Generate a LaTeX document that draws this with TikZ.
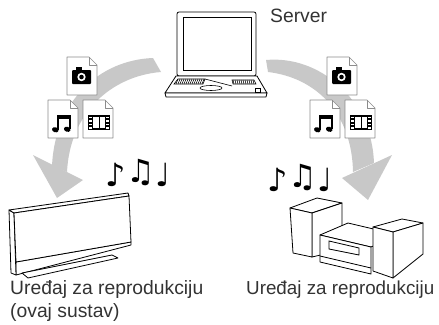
\documentclass[tikz,border=0pt]{standalone}
\usepackage{fontspec}
\setmainfont{Liberation Sans}
\newfontfamily\notefont{DejaVu Sans}

\definecolor{flowgray}{HTML}{C8C8C8}
\definecolor{labelgray}{HTML}{333333}
\definecolor{pagegray}{HTML}{8C8C8C}

\newcommand{\tunes}{♪\raisebox{4pt}{♫}♩}

\tikzset{
  devline/.style={draw=black,line width=0.8pt,line join=round,fill=white},
  flow/.style={fill=flowgray,draw=none},
  page/.style={draw=pagegray,line width=0.7pt,fill=white,line join=round},
  caption/.style={text=labelgray,font=\fontsize{19.3}{23}\selectfont,inner sep=0pt},
  tune/.style={font=\notefont\fontsize{32}{32}\selectfont,inner sep=0pt},
  % blank page with folded corner, 30 x 38
  pagebase/.pic={
    \path[page] (0,0) -- (22,0) -- (30,8) -- (30,38) -- (0,38) -- cycle;
    \draw[pagegray,line width=0.7pt,line join=round] (22,0) -- (22,8) -- (30,8);
  },
  photofile/.pic={
    \pic {pagebase};
    \fill[black,rounded corners=1pt] (5,13) rectangle (24,27);
    \fill[black] (9,10) rectangle (15,14);
    \fill[white] (14.5,20) circle (4.2);
    \fill[black] (14.5,20) circle (2.3);
  },
  musicfile/.pic={
    \pic {pagebase};
    \fill[black] (9,15) rectangle (22.5,18.5);
    \draw[black,line width=1.6pt] (9.8,16) -- (9.8,29.5) (21.7,16) -- (21.7,29);
    \fill[black,rotate around={-20:(7.3,29.8)}] (7.3,29.8) ellipse (3.4 and 2.5);
    \fill[black,rotate around={-20:(19.2,29.3)}] (19.2,29.3) ellipse (3.4 and 2.5);
  },
  filmfile/.pic={
    \pic {pagebase};
    \fill[black] (5,15) rectangle (27,30);
    \fill[white] (10,17) rectangle (22,28);
    \draw[black,line width=0.8pt] (16,17) -- (16,28);
    \foreach \y in {16.5,20,23.5,27}{
      \fill[white] (6.3,\y) rectangle (8.7,\y+1.6);
      \fill[white] (23.3,\y) rectangle (25.7,\y+1.6);
    }
  },
}

\begin{document}
\begin{tikzpicture}[x=1pt,y=-1pt]
\useasboundingbox (0,0) rectangle (439,324);

% curved flows from the server
\fill[flow] (153,58) .. controls (100,60) and (55,100) .. (52,166)
  -- (67,172) .. controls (70,112) and (112,76) .. (161,72) -- cycle;
\fill[flow] (33,155) -- (83,180) -- (57,198) -- cycle;
\fill[flow] (266,60) .. controls (320,55) and (372,100) .. (374,163)
  -- (353,172) .. controls (352,115) and (318,78) .. (268,72) -- cycle;
\fill[flow] (342,178) -- (392,155) -- (368,200) -- cycle;

% media files
\pic (lphoto) at (67,57) {photofile};
\pic (lmusic) at (48,100) {musicfile};
\pic (lfilm) at (83,100) {filmfile};
\pic (rphoto) at (327,57) {photofile};
\pic (rmusic) at (310,100) {musicfile};
\pic (rfilm) at (345,100) {filmfile};

% laptop
\draw[devline,rounded corners=2pt] (177,12) rectangle (256,76);
\draw[line width=0.8pt] (183,17) rectangle (251,70);
\draw[devline] (176,76) -- (257,76) -- (267,93) -- (165,93) -- cycle;
\draw[devline] (165,93) -- (267,93) -- (266,97) -- (166,97) -- cycle;
\draw[line width=0.6pt] (178,79) -- (205,79) -- (203,84) -- (174,84) -- cycle;
\draw[line width=0.6pt] (232,80) -- (254,80) -- (256,84) -- (233,84) -- cycle;
\foreach \x in {0,2,...,26}
  \draw[line width=0.5pt] (178+\x,79) -- (176+\x,84);
\foreach \x in {0,2,...,20}
  \draw[line width=0.5pt] (233+\x,80) -- (234+\x,84);
\draw[line width=0.6pt] (205,79) -- (232,86);
\draw[line width=0.6pt] (211,88) ellipse (11 and 2.5);
\draw[line width=0.6pt] (255,88) rectangle (260,92);

% player on a stand
\draw[devline] (16,262) -- (131,242) -- (131,245) -- (16,275) -- cycle;
\draw[devline] (22,273) -- (112,255) -- (118,258) -- (28,278) -- cycle;
\draw[devline] (9,210) -- (14,213) -- (16,275) -- (11,273) -- cycle;
\draw[devline] (9,210) -- (128,193) -- (129,196) -- (14,213) -- cycle;
\draw[devline] (14,213) -- (129,196) -- (131,242) -- (16,262) -- cycle;

% mini hi-fi
\draw[devline] (290,208) -- (317,198) -- (342,203) -- (312,213) -- cycle;
\draw[devline] (312,213) -- (342,203) -- (342,250) -- (312,257) -- cycle;
\draw[devline] (290,208) -- (312,213) -- (312,257) -- (293,253) -- cycle;
\draw[devline] (320,235) -- (348,223) -- (399,235) -- (371,247) -- cycle;
\draw[devline] (320,235) -- (371,247) -- (371,274) -- (320,262) -- cycle;
\draw[line width=0.8pt] (320,256) -- (371,268);
\draw[line width=0.8pt] (329,241) -- (359,248) -- (359,255) -- (329,249) -- cycle;
\draw[devline] (373,227) -- (402,219) -- (423,223) -- (393,232) -- cycle;
\draw[devline] (393,232) -- (423,223) -- (423,254) -- (393,278) -- cycle;
\draw[devline] (373,227) -- (393,232) -- (393,278) -- (373,271) -- cycle;

% music notes
\node (ltunes)[tune] at (138,173) {\tunes};
\node (rtunes)[tune] at (300,178) {\tunes};

% labels
\node (srv)[caption,anchor=base west] at (270,23) {Server};
\node (lcap)[caption,anchor=base west] at (10,294) {Uređaj za reprodukciju};
\node (lcapb)[caption,anchor=base west] at ([yshift=-23pt]lcap.base west) {(ovaj sustav)};
\node (rcap)[caption,anchor=base west,font=\fontsize{18.8}{23}\selectfont] at (246,294) {Uređaj za reprodukciju};
\end{tikzpicture}
\end{document}
